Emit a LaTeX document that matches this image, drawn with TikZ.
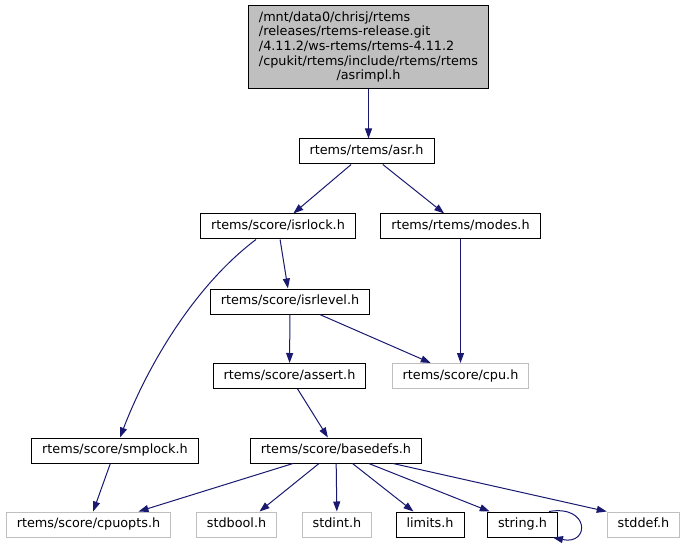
\documentclass[tikz,border=0pt]{standalone}
\usepackage{fontspec}
\setmainfont{DejaVu Sans}
\usetikzlibrary{arrows.meta}
\definecolor{edgeblue}{HTML}{191970}
\definecolor{lightframe}{HTML}{BFBFBF}

\begin{document}
\begin{tikzpicture}[x=1pt,y=-1pt]

\tikzset{box/.style = {shape=rectangle,draw,line width=1pt,inner xsep=10.5pt,inner ysep=4pt,minimum height=25pt,font=\fontsize{12.8pt}{14.7pt}\selectfont}}
\tikzset{file/.style = {box,text height=9.5pt,text depth=3pt}}
\tikzset{sysfile/.style = {file,draw=lightframe}}
\tikzset{edge/.style = {->,> = {Triangle[length=10pt,width=7pt]},draw=edgeblue,line width=1pt}}

\useasboundingbox (0,0) rectangle (685,545);

\node[box,fill=lightframe,minimum width=239pt,minimum height=83pt] (asrimpl) at (368.5,47.5)
  {\begin{tabular}{@{}l@{}}/mnt/data0/chrisj/rtems\\/releases/rtems-release.git\\/4.11.2/ws-rtems/rtems-4.11.2\\/cpukit/rtems/include/rtems/rtems\\\multicolumn{1}{@{}c@{}}{/asrimpl.h}\end{tabular}};
\node[file] (asr) at (366.5,151.5) {rtems/rtems/asr.h};
\node[file] (isrlock) at (278,226.5) {rtems/score/isrlock.h};
\node[file] (modes) at (460.5,226.5) {rtems/rtems/modes.h};
\node[file] (isrlevel) at (290,301.5) {rtems/score/isrlevel.h};
\node[file] (assert) at (289.5,376) {rtems/score/assert.h};
\node[sysfile] (cpu) at (460.5,376) {rtems/score/cpu.h};
\node[file] (smplock) at (115,450.5) {rtems/score/smplock.h};
\node[file] (basedefs) at (336,450.5) {rtems/score/basedefs.h};
\node[sysfile] (cpuopts) at (88.5,524.5) {rtems/score/cpuopts.h};
\node[sysfile] (stdbool) at (236.5,524.5) {stdbool.h};
\node[sysfile] (stdint) at (337,524.5) {stdint.h};
\node[file] (limits) at (430,524.5) {limits.h};
\node[file] (string) at (522.5,524.5) {string.h};
\node[sysfile] (stddef) at (643.5,524.5) {stddef.h};

\draw[edge] (asrimpl) -- (asrimpl |- asr.north);
\draw[edge] (asr) -- (isrlock);
\draw[edge] (asr) -- (modes);
\draw[edge] (isrlock) -- (isrlevel);
\draw[edge] ([xshift=-22pt]isrlock.south) .. controls +(-61,46) and +(28,-73) .. ([xshift=5pt]smplock.north);
\draw[edge] (modes) -- (cpu);
\draw[edge] (isrlevel) -- (assert);
\draw[edge] (isrlevel) -- (cpu);
\draw[edge] (assert) -- (basedefs);
\draw[edge] (smplock) -- (cpuopts);
\draw[edge] ([xshift=-43pt]basedefs.south) -- ([xshift=50pt]cpuopts.north);
\draw[edge] ([xshift=-17pt]basedefs.south) -- ([xshift=23pt]stdbool.north);
\draw[edge] (basedefs) -- (stdint);
\draw[edge] (basedefs) -- (limits);
\draw[edge] (basedefs) -- (string);
\draw[edge] ([xshift=57pt]basedefs.south) -- (stddef.north west);
\draw[edge] ([xshift=-9pt]string.north east) .. controls +(41,-7) and +(37,8) .. ([xshift=-5pt]string.south east);

\end{tikzpicture}
\end{document}
